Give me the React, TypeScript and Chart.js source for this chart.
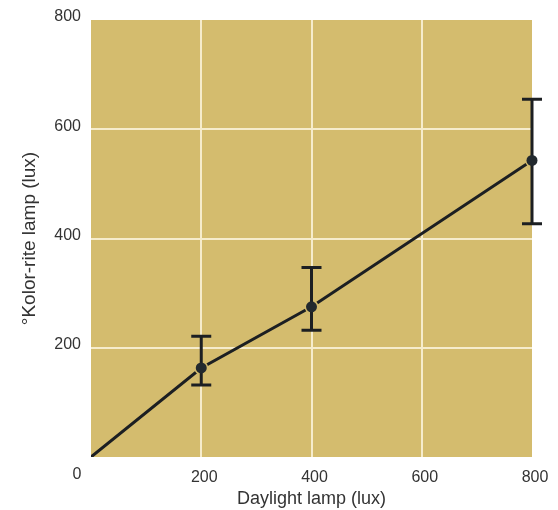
import React, { useEffect, useRef } from "react";
import { Chart, registerables } from "chart.js";

Chart.register(...registerables);

const xValues = [0, 200, 400, 800];
const yValues = [0, 163, 275, 543];
const errX = [200, 400, 800];
const errLow = [132, 232, 427];
const errHigh = [221, 347, 655];
const tickValues = [0, 200, 400, 600, 800];

const BG = "#d4bc6e";
const GRID = "#f6eccc";
const INK = "#1c1f22";
const TEXT = "#333333";
const FONT = "'Liberation Sans', Arial, sans-serif";

const bgPlugin = {
  id: "bgPlugin",
  beforeDraw(chart: any) {
    const { ctx, chartArea } = chart;
    ctx.save();
    ctx.fillStyle = BG;
    ctx.fillRect(chartArea.left, chartArea.top, chartArea.right - chartArea.left, chartArea.bottom - chartArea.top);
    ctx.restore();
  },
};

const errPlugin = {
  id: "errPlugin",
  afterDatasetsDraw(chart: any) {
    const { ctx } = chart;
    const xs = chart.scales.x;
    const ys = chart.scales.y;
    ctx.save();
    ctx.strokeStyle = INK;
    ctx.lineWidth = 3;
    ctx.lineCap = "butt";
    errX.forEach((xv, i) => {
      const px = xs.getPixelForValue(xv);
      const lo = ys.getPixelForValue(errLow[i]);
      const hi = ys.getPixelForValue(errHigh[i]);
      ctx.beginPath();
      ctx.moveTo(px, lo);
      ctx.lineTo(px, hi);
      ctx.moveTo(px - 10, lo);
      ctx.lineTo(px + 10, lo);
      ctx.moveTo(px - 10, hi);
      ctx.lineTo(px + 10, hi);
      ctx.stroke();
    });
    errX.forEach((xv) => {
      const idx = xValues.indexOf(xv);
      const px = xs.getPixelForValue(xv);
      const py = ys.getPixelForValue(yValues[idx]);
      ctx.beginPath();
      ctx.fillStyle = "#22292e";
      ctx.arc(px, py, 5.5, 0, Math.PI * 2);
      ctx.fill();
    });
    ctx.fillStyle = TEXT;
    ctx.font = `16px ${FONT}`;
    ctx.textAlign = "center";
    ctx.textBaseline = "middle";
    ctx.fillText("0", xs.getPixelForValue(0) - 14, ys.getPixelForValue(0) + 18);
    ctx.restore();
  },
};

export default function App() {
  const ref = useRef<HTMLCanvasElement | null>(null);
  useEffect(() => {
    if (!ref.current) return;
    const chart = new Chart(ref.current, {
      type: "scatter",
      data: {
        datasets: [
          {
            data: xValues.map((x, i) => ({ x, y: yValues[i] })),
            showLine: true,
            borderColor: INK,
            borderWidth: 3,
            pointRadius: (c: any) => (c.dataIndex === 0 ? 0 : 7),
            pointBackgroundColor: BG,
            pointBorderWidth: 0,
            pointBorderColor: BG,
          } as any,
        ],
      },
      options: {
        animation: false,
        responsive: true,
        maintainAspectRatio: false,
        layout: { padding: { top: 20, right: 26, left: 0, bottom: 0 } },
        plugins: { legend: { display: false }, tooltip: { enabled: false } },
        scales: {
          x: {
            type: "linear",
            min: 0,
            max: 800,
            afterBuildTicks: (s: any) => {
              s.ticks = tickValues.map((v) => ({ value: v }));
            },
            afterFit: (s: any) => {
              s.height = 53;
            },
            grid: {
              color: (c: any) => (c.tick && (c.tick.value === 0 || c.tick.value === 800) ? "rgba(0,0,0,0)" : GRID),
              lineWidth: 2,
              drawTicks: false,
            },
            border: { display: false },
            ticks: {
              padding: 11,
              labelOffset: 3,
              color: TEXT,
              font: { family: FONT, size: 16 },
              maxRotation: 0,
              callback: (v: any) => (v === 0 ? "" : String(v)),
            },
            title: {
              display: true,
              text: "Daylight lamp (lux)",
              color: TEXT,
              font: { family: FONT, size: 18 },
              padding: { top: 0, bottom: 0 },
            },
          },
          y: {
            type: "linear",
            min: 0,
            max: 800,
            afterBuildTicks: (s: any) => {
              s.ticks = tickValues.map((v) => ({ value: v }));
            },
            afterFit: (s: any) => {
              s.width = 91;
            },
            grid: {
              color: (c: any) => (c.tick && (c.tick.value === 0 || c.tick.value === 800) ? "rgba(0,0,0,0)" : GRID),
              lineWidth: 2,
              drawTicks: false,
            },
            border: { display: false },
            ticks: {
              padding: 10,
              labelOffset: -3,
              color: TEXT,
              font: { family: FONT, size: 16 },
              callback: (v: any) => (v === 0 ? "" : String(v)),
            },
            title: {
              display: true,
              text: "°Kolor-rite lamp (lux)",
              color: TEXT,
              font: { family: FONT, size: 19 },
              padding: { top: 18, bottom: 0 },
            },
          },
        },
      },
      plugins: [bgPlugin, errPlugin],
    });
    return () => chart.destroy();
  }, []);
  return (
    <div style={{ position: "fixed", left: 0, top: 0, width: 558, height: 510, background: "#fff" }}>
      <canvas ref={ref} />
    </div>
  );
}
